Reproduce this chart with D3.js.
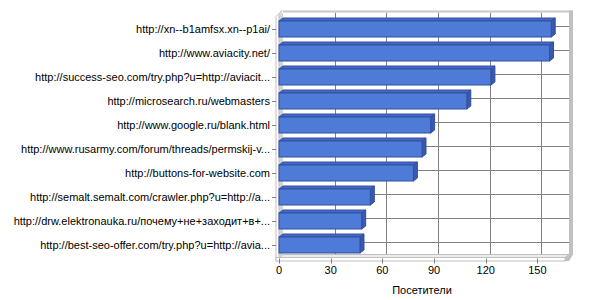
<!DOCTYPE html>
<html>
<head>
<meta charset="utf-8">
<script src="https://cdn.jsdelivr.net/npm/d3@7"></script>
<style>
    body { margin: 0; background: #fff; }
    svg text { font-family: "Liberation Sans", Arial, sans-serif; font-size: 11px; fill: #000; }
</style>
</head>
<body>
<div id="chart"></div>
<script>

// data
let sites = [
    "http://xn--b1amfsx.xn--p1ai/",
    "http://www.aviacity.net/",
    "http://success-seo.com/try.php?u=http://aviacit...",
    "http://microsearch.ru/webmasters",
    "http://www.google.ru/blank.html",
    "http://www.rusarmy.com/forum/threads/permskij-v...",
    "http://buttons-for-website.com",
    "http://semalt.semalt.com/crawler.php?u=http://a...",
    "http://drw.elektronauka.ru/почему+не+заходит+в+...",
    "http://best-seo-offer.com/try.php?u=http://avia..."
];
let visits = [158, 157, 123, 109, 88, 83, 78, 53, 48, 47];
let xTicks = [0, 30, 60, 90, 120, 150];
let xMax = 166;
let axisTitle = "Посетители";


class BarVis {

    constructor(parentElement, sites, visits) {
        this.parentElement = parentElement;
        this.sites = sites;
        this.visits = visits;
        this.initVis();
    }

    initVis() {
        let vis = this;

        vis.width = 600;
        vis.height = 300;
        vis.depth = {x: 4, y: -3};

        vis.svg = d3.select("#" + vis.parentElement).append("svg")
            .attr("width", vis.width)
            .attr("height", vis.height);

        // scales
        vis.x = d3.scaleLinear().domain([0, xMax]).range([279, 565]);
        vis.y = d3.scaleBand().domain(vis.sites)
            .range([17, 257])
            .paddingInner(1 / 3)
            .paddingOuter(1 / 6);

        // front plane frame
        vis.left = vis.x(0);
        vis.right = vis.x(xMax);
        vis.top = 15.5;
        vis.bottom = 257.5;

        vis.drawFrame();
        vis.updateVis();
    }

    drawFrame() {
        let vis = this;
        let dx = vis.depth.x, dy = vis.depth.y;
        let bl = vis.left + dx, br = vis.right + dx, bt = vis.top + dy, bb = vis.bottom + dy;

        // back wall
        vis.svg.append("rect")
            .attr("x", bl).attr("y", bt)
            .attr("width", br - bl).attr("height", bb - bt)
            .attr("fill", "#fff");

        // vertical grid lines on back wall
        vis.svg.selectAll(".vgrid")
            .data(xTicks.filter(d => d > 0))
            .enter().append("line")
            .attr("class", "vgrid")
            .attr("x1", d => Math.round(vis.x(d) + dx) + 0.5)
            .attr("x2", d => Math.round(vis.x(d) + dx) + 0.5)
            .attr("y1", bt).attr("y2", bb)
            .attr("stroke", "#808080");

        // horizontal grid lines at category centres
        vis.svg.selectAll(".hgrid")
            .data(vis.sites)
            .enter().append("line")
            .attr("class", "hgrid")
            .attr("x1", bl).attr("x2", br)
            .attr("y1", d => Math.round(vis.y(d) + vis.y.bandwidth() / 2 + dy) + 0.5)
            .attr("y2", d => Math.round(vis.y(d) + vis.y.bandwidth() / 2 + dy) + 0.5)
            .attr("stroke", "#808080");

        // top edge of back wall
        vis.svg.append("line")
            .attr("x1", bl).attr("x2", br + 4)
            .attr("y1", bt - 1).attr("y2", bt - 1)
            .attr("stroke", "#c8c8c8").attr("stroke-width", 2);

        // left wall (inner slanted face + front edge)
        vis.svg.append("path")
            .attr("d", `M${vis.left},${vis.top} L${bl},${bt} L${bl},${bb} L${vis.left},${vis.bottom} Z`)
            .attr("fill", "#d4d4d4");
        vis.svg.append("path")
            .attr("d", `M${vis.left - 3},${vis.top + 1} L${bl - 1},${bt - 2} L${vis.left},${vis.top} L${vis.left},${vis.bottom + 3.5} L${vis.left - 3},${vis.bottom + 3.5} Z`)
            .attr("fill", "#fff").attr("stroke", "#c0c0c0");

        // floor (top face + front face)
        vis.svg.append("path")
            .attr("d", `M${vis.left},${vis.bottom} L${bl},${bb} L${br},${bb} L${vis.right},${vis.bottom} Z`)
            .attr("fill", "#ececec").attr("stroke", "#c0c0c0");
        vis.svg.append("rect")
            .attr("x", vis.left - 3).attr("y", vis.bottom)
            .attr("width", vis.right - vis.left + 3).attr("height", 3.5)
            .attr("fill", "#fff").attr("stroke", "#c0c0c0");

        // right wall
        vis.svg.append("path")
            .attr("d", `M${br},${bt - 2} L${br + 4},${bt - 2} L${br + 4},${bb} L${vis.right + 4},${vis.bottom + 3.5} L${vis.right},${vis.bottom + 3.5} L${vis.right},${vis.bottom} L${br},${bb} Z`)
            .attr("fill", "#c0c0c0");
    }

    updateVis() {
        let vis = this;
        let dx = vis.depth.x, dy = vis.depth.y;
        let bw = vis.y.bandwidth();
        let rows = vis.sites.map((s, i) => ({site: s, value: vis.visits[i]}));

        let bars = vis.svg.selectAll(".bar")
            .data(rows)
            .enter().append("g")
            .attr("class", "bar");

        // top face
        bars.append("path")
            .attr("d", d => {
                let x0 = vis.x(0), x1 = vis.x(d.value), y0 = vis.y(d.site);
                return `M${x0},${y0} L${x0 + dx},${y0 + dy} L${x1 + dx},${y0 + dy} L${x1},${y0} Z`;
            })
            .attr("fill", "#4567c8").attr("stroke", "#33509f").attr("stroke-width", 1);

        // side face
        bars.append("path")
            .attr("d", d => {
                let x1 = vis.x(d.value), y0 = vis.y(d.site);
                return `M${x1},${y0} L${x1 + dx},${y0 + dy} L${x1 + dx},${y0 + bw + dy} L${x1},${y0 + bw} Z`;
            })
            .attr("fill", "#3a58ac").attr("stroke", "#33509f").attr("stroke-width", 1);

        // front face
        bars.append("rect")
            .attr("x", vis.x(0))
            .attr("y", d => vis.y(d.site))
            .attr("width", d => vis.x(d.value) - vis.x(0))
            .attr("height", bw)
            .attr("fill", "#4f7bd8")
            .attr("stroke", "#33509f").attr("stroke-width", 1);

        // category ticks and labels
        let centre = d => vis.y(d) + bw / 2;
        vis.svg.selectAll(".ytick")
            .data(vis.sites)
            .enter().append("line")
            .attr("class", "ytick")
            .attr("x1", vis.left - 7).attr("x2", vis.left - 3)
            .attr("y1", d => Math.round(centre(d)) + 0.5)
            .attr("y2", d => Math.round(centre(d)) + 0.5)
            .attr("stroke", "#808080");

        vis.svg.selectAll(".ylabel")
            .data(vis.sites)
            .enter().append("text")
            .attr("class", "ylabel")
            .attr("text-anchor", "end")
            .attr("x", vis.left - 9)
            .attr("y", d => centre(d))
            .attr("dy", "0.35em")
            .text(d => d);

        // value axis ticks and labels
        vis.svg.selectAll(".xtick")
            .data(xTicks)
            .enter().append("line")
            .attr("class", "xtick")
            .attr("x1", d => Math.round(vis.x(d)) + 0.5)
            .attr("x2", d => Math.round(vis.x(d)) + 0.5)
            .attr("y1", vis.bottom + 1).attr("y2", vis.bottom + 6)
            .attr("stroke", "#808080");

        vis.svg.selectAll(".xlabel")
            .data(xTicks)
            .enter().append("text")
            .attr("class", "xlabel")
            .attr("text-anchor", "middle")
            .attr("x", d => vis.x(d))
            .attr("y", 274)
            .text(d => d);

        vis.svg.append("text")
            .attr("text-anchor", "middle")
            .attr("x", 422)
            .attr("y", 294)
            .text(axisTitle);
    }
}

new BarVis("chart", sites, visits);
</script>
</body>
</html>
